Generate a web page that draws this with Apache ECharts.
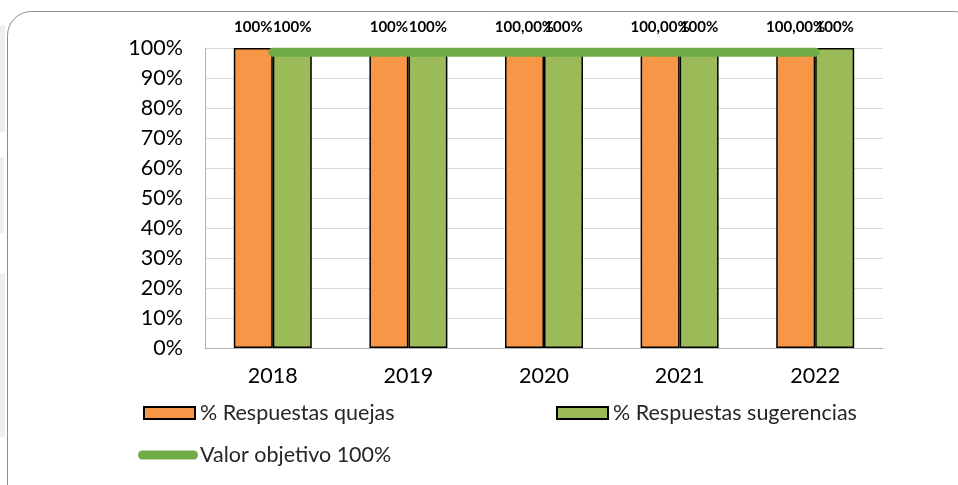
<!DOCTYPE html>
<html>
<head>
<meta charset="utf-8">
<script src="https://cdn.jsdelivr.net/npm/echarts@6/dist/echarts.min.js"></script>
<style>
html,body{margin:0;padding:0;background:#fff;}
#c{width:958px;height:485px;}
</style>
</head>
<body>
<div id="c"></div>
<script>
var categories = ['2018', '2019', '2020', '2021', '2022'];
var quejas = [1, 1, 1, 1, 1];
var sugerencias = [1, 1, 1, 1, 1];
var objetivo = [0.986, 0.986, 0.986, 0.986, 0.986];
var quejasLabels = ['100%', '100%', '100,00%', '100,00%', '100,00%'];
var sugerenciasLabels = ['100%', '100%', '100%', '100%', '100%'];
var yTicks = [0, 0.1, 0.2, 0.3, 0.4, 0.5, 0.6, 0.7, 0.8, 0.9, 1];
var names = ['% Respuestas quejas', '% Respuestas sugerencias', 'Valor objetivo 100%'];

var FONT = 'Lato, "Open Sans", sans-serif';
var chart = echarts.init(document.getElementById('c'));
var labelStyle = {fontFamily: FONT, fontSize: 15, fontWeight: 'bold', color: '#000'};
var legendText = {fontFamily: FONT, fontSize: 21.5, color: '#262626', padding: [0, 0, 0, 0]};
var legendTextLine = {fontFamily: FONT, fontSize: 21.5, color: '#262626', padding: [0, 0, 0, -3]};

chart.setOption({
  animation: false,
  backgroundColor: '#fff',
  graphic: [
    {type: 'rect', z: -10, shape: {x: 0, y: 25, width: 5, height: 107}, style: {fill: '#efefef'}},
    {type: 'rect', z: -10, shape: {x: 0, y: 157, width: 4, height: 76}, style: {fill: '#efefef'}},
    {type: 'rect', z: -10, shape: {x: 0, y: 273, width: 5, height: 164}, style: {fill: '#efefef'}},
    {type: 'rect', z: -5, shape: {x: 7.5, y: 11.5, width: 970, height: 500, r: 24},
     style: {fill: '#fff', stroke: '#8c8c8c', lineWidth: 1}}
  ],
  grid: {left: 205, right: 75, top: 48, bottom: 137},
  legend: [
    {data: [{name: names[0], icon: 'rect'}], left: 143, top: 402, padding: 0,
     itemWidth: 51, itemHeight: 12, itemGap: 0, textStyle: legendText},
    {data: [{name: names[1], icon: 'rect'}], left: 556, top: 402, padding: 0,
     itemWidth: 51, itemHeight: 12, itemGap: 0, textStyle: legendText},
    {data: [{name: names[2], icon: 'path://M4.5,0H55.5A4.5,4.5,0,0,1,55.5,9H4.5A4.5,4.5,0,0,1,4.5,0Z',
             itemStyle: {color: '#70AD47', borderWidth: 0}}],
     left: 138, top: 444, padding: 0, itemWidth: 60, itemHeight: 9, itemGap: 0,
     textStyle: legendTextLine}
  ],
  xAxis: {
    type: 'category', data: categories,
    axisLine: {lineStyle: {color: '#b3b3b3', width: 1}},
    axisTick: {show: false},
    axisLabel: {fontFamily: FONT, fontSize: 21.5, color: '#000', margin: 17}
  },
  yAxis: {
    type: 'value', min: 0, max: 1, interval: 0.1,
    axisLine: {show: true, lineStyle: {color: '#b3b3b3', width: 1}},
    axisTick: {show: false},
    splitLine: {lineStyle: {color: '#d9d9d9', width: 1}},
    axisLabel: {fontFamily: FONT, fontSize: 21.5, color: '#000', margin: 22,
      formatter: function (v) { return Math.round(v * 100) + '%'; }}
  },
  series: [
    {name: names[0], type: 'bar', data: quejas, barGap: '0%', barCategoryGap: '42.5%',
     itemStyle: {color: '#F79646', borderColor: '#000', borderWidth: 1.5},
     label: Object.assign({show: true, position: 'top', distance: 13,
       formatter: function (p) { return quejasLabels[p.dataIndex]; }}, labelStyle)},
    {name: names[1], type: 'bar', data: sugerencias,
     itemStyle: {color: '#9BBB59', borderColor: '#000', borderWidth: 1.5},
     label: Object.assign({show: true, position: 'top', distance: 13,
       formatter: function (p) { return sugerenciasLabels[p.dataIndex]; }}, labelStyle)},
    {name: names[2], type: 'line', data: objetivo, symbol: 'none', z: 5,
     itemStyle: {color: '#70AD47'},
     lineStyle: {color: '#70AD47', width: 9, cap: 'round'}}
  ]
});
</script>
</body>
</html>
